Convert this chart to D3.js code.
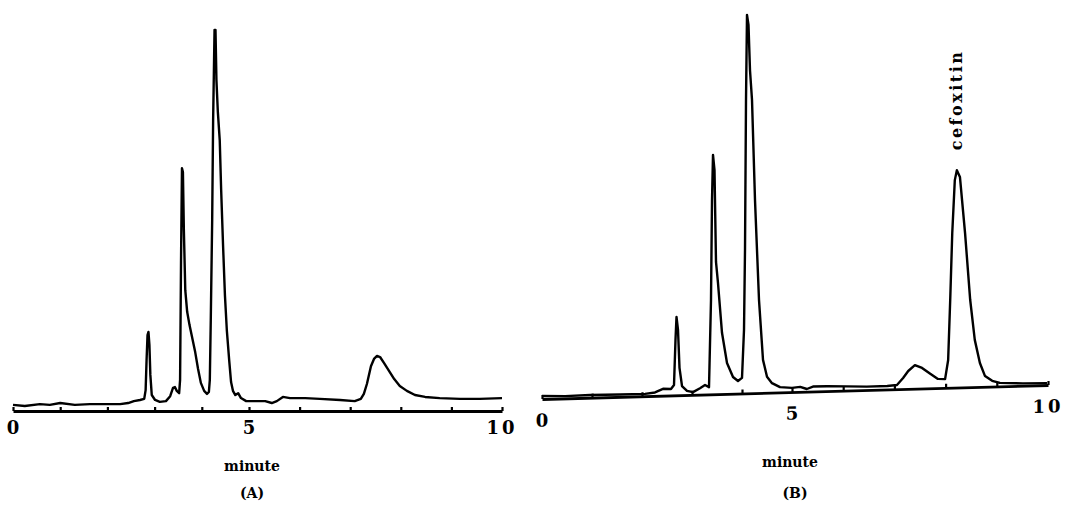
<!DOCTYPE html>
<html><head><meta charset="utf-8">
<script src="https://cdn.jsdelivr.net/npm/d3@7"></script>
<style>html,body{margin:0;padding:0;background:#fff;overflow:hidden}</style>
</head><body>
<svg id="c" width="1066" height="511"></svg>
<script>
// ---------- data ----------
// Panel A : blank sample trace (time in minutes, detector signal in arbitrary units)
const timeA = [0,0.25,0.57,0.78,1.00,1.31,1.63,1.95,2.27,2.44,2.56,2.69,2.78,2.81,2.83,2.85,2.87,2.89,2.91,2.94,3.01,3.11,3.24,3.33,3.39,3.43,3.47,3.52,3.54,3.56,3.58,3.60,3.62,3.65,3.69,3.74,3.79,3.86,3.92,3.98,4.05,4.11,4.15,4.17,4.19,4.22,4.24,4.26,4.27,4.29,4.31,4.34,4.38,4.41,4.45,4.49,4.53,4.58,4.62,4.66,4.71,4.77,4.83,4.94,5.12,5.32,5.45,5.55,5.67,5.81,6.11,6.40,6.80,7.09,7.21,7.27,7.33,7.41,7.47,7.53,7.59,7.67,7.77,7.87,7.98,8.12,8.28,8.48,8.77,9.17,9.56,10.0];
const signalA = [1.6,1.3,1.8,1.6,2.1,1.6,1.8,1.8,1.8,2.1,2.6,2.9,3.2,5.5,13.4,20.0,20.8,17.4,9.5,4.2,2.9,2.4,2.6,3.9,6.1,6.3,5.3,4.7,8.2,39.7,63.9,62.9,47.6,31.8,26.1,22.6,19.7,15.5,11.1,7.4,5.3,4.5,5.0,8.2,23.9,50.3,76.6,92.4,100.3,100.3,87.1,78.7,71.3,58.2,43.7,30.5,21.3,13.4,7.6,5.3,4.2,4.7,3.4,2.6,2.6,2.6,2.1,2.6,3.7,3.4,3.4,3.2,2.9,2.6,3.2,4.5,7.1,11.8,13.7,14.5,14.2,12.6,10.5,8.4,6.6,5.3,4.2,3.7,3.4,3.2,3.2,3.4];
// Panel B : spiked sample trace with cefoxitin
const timeB = [0,0.46,0.96,1.56,2.06,2.26,2.42,2.58,2.64,2.67,2.69,2.72,2.75,2.80,2.90,3.02,3.16,3.26,3.34,3.38,3.40,3.42,3.45,3.48,3.52,3.60,3.70,3.82,3.92,4.00,4.04,4.06,4.08,4.10,4.13,4.16,4.20,4.26,4.34,4.42,4.50,4.60,4.76,5.00,5.16,5.29,5.41,5.68,6.07,6.46,6.86,7.05,7.17,7.27,7.40,7.54,7.70,7.85,7.99,8.05,8.09,8.13,8.18,8.22,8.28,8.38,8.48,8.57,8.67,8.77,8.91,9.06,9.51,9.98];
const signalB = [0.8,0.6,0.7,0.6,0.6,0.9,1.8,1.7,2.7,14.6,20.6,17.2,7.2,2.4,1.1,0.7,1.7,2.5,1.9,24.8,51.1,63.0,59.0,34.8,29.2,16.1,8.1,4.4,3.3,4.1,16.7,37.7,77.2,99.6,96.9,85.0,77.2,50.8,24.5,8.7,4.2,2.5,1.4,1.1,1.3,0.7,1.3,1.3,1.1,0.9,0.9,1.1,2.9,4.7,6.2,5.4,3.8,2.4,2.3,7.3,23.1,40.7,54.6,57.2,55.4,40.6,23.0,12.4,6.3,2.8,1.5,0.9,0.6,0.5];

const minuteTicks = [0,1,2,3,4,5,6,7,8,9,10];
const labelMinutes = [0,5,10];
const labelTexts = ["0","5","10"];
const axisTitle = "minute";
const panelNames = ["(A)","(B)"];
const peakName = "cefoxitin";
const peakTimeB = 8.22;

// ---------- drawing ----------
const svg = d3.select("#c");
const serif = "'DejaVu Serif', 'Liberation Serif', serif";

function drawPanel(g, x, y, time, signal, labelDy) {
  const axis = d3.axisBottom(x).tickValues(minuteTicks)
    .tickSizeInner(-4).tickSizeOuter(0).tickFormat("");
  const ag = g.append("g").attr("transform", `translate(0,${y(0)})`).call(axis);
  ag.select(".domain").attr("stroke", "#000").attr("stroke-width", 2.8);
  ag.selectAll(".tick line").attr("stroke", "#000").attr("stroke-width", 2.2);

  const line = d3.line().x((d, i) => x(time[i])).y((d, i) => y(signal[i]))
    .curve(d3.curveLinear);
  g.append("path").datum(signal).attr("d", line)
    .attr("fill", "none").attr("stroke", "#000")
    .attr("stroke-width", 2.4).attr("stroke-linejoin", "round");

  g.selectAll(".tl").data(labelMinutes).enter().append("text")
    .attr("x", d => x(d)).attr("y", y(0) + labelDy)
    .attr("text-anchor", "middle").attr("dominant-baseline", "central")
    .attr("font-family", serif).attr("font-weight", "bold")
    .attr("font-size", 18).attr("letter-spacing", (d, i) => labelTexts[i].length > 1 ? 3 : 0)
    .text((d, i) => labelTexts[i]);
}

// Panel A
const xA = d3.scaleLinear().domain([0, 5, 10]).range([13, 249, 502]);
const yA = d3.scaleLinear().domain([0, 100]).range([411, 31]);
const gA = svg.append("g");
drawPanel(gA, xA, yA, timeA, signalA, 16);

// Panel B (recorder paper slightly skewed)
const xB = d3.scaleLinear().domain([0, 5, 10]).range([542, 792, 1048]);
const yB = d3.scaleLinear().domain([0, 100]).range([399, 19]);
const gB = svg.append("g")
  .attr("transform", `translate(542,399) skewY(-1.585) translate(-542,-399)`);
drawPanel(gB, xB, yB, timeB, signalB, 21);

// Peak label
svg.append("text")
  .attr("transform", `translate(${xB(peakTimeB)},100) rotate(-90)`)
  .attr("text-anchor", "middle").attr("dominant-baseline", "central")
  .attr("font-family", serif)
  .attr("font-weight", "bold").attr("font-size", 16).attr("letter-spacing", 2.5)
  .text(peakName);

// Axis titles and panel names
const titleX = [252, 790];
const nameX = [252, 795];
svg.selectAll(".at").data(titleX).enter().append("text")
  .attr("x", d => d).attr("y", (d, i) => i === 0 ? 466 : 462)
  .attr("text-anchor", "middle").attr("dominant-baseline", "central")
  .attr("font-family", serif).attr("font-weight", "bold").attr("font-size", 14)
  .text(axisTitle);
svg.selectAll(".pn").data(nameX).enter().append("text")
  .attr("x", d => d).attr("y", 493)
  .attr("text-anchor", "middle").attr("dominant-baseline", "central")
  .attr("font-family", serif).attr("font-weight", "bold").attr("font-size", 14)
  .text((d, i) => panelNames[i]);
</script>
</body></html>
